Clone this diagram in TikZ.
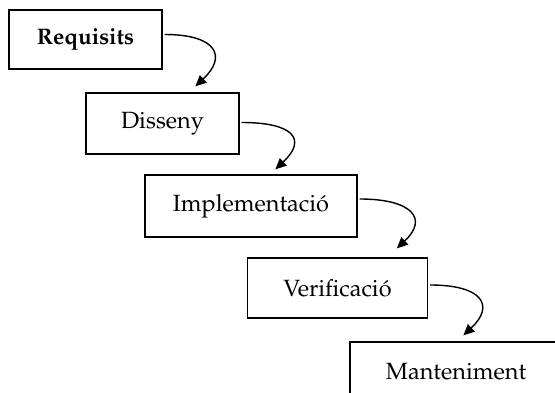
\documentclass[tikz,border=0pt]{standalone}
\usepackage[T1]{fontenc}
\usepackage{mathpazo}
\usetikzlibrary{arrows.meta}
\begin{document}
\begin{tikzpicture}[x=1pt,y=-1pt,
  stage/.style={draw, line width=1.3pt, rectangle, inner sep=0pt, font=\fontsize{23.5}{26}\selectfont},
  flow/.style={line width=1.4pt, -{Triangle[length=11pt,width=10pt]}}]
\useasboundingbox (0,0) rectangle (555,393);
\clip (0,0) rectangle (555,393);
\fill[white] (0,0) rectangle (555,393);
\node[stage, minimum width=153pt, minimum height=59pt] (r) at (85.5,39.5) {\fontsize{22.5}{26}\selectfont\textbf{Requisits}};
\node[stage, minimum width=153pt, minimum height=61pt] (d) at (162.5,123.5) {Disseny};
\node[stage, minimum width=212pt, minimum height=62pt] (i) at (251,206) {Implementaci\'o};
\node[stage, minimum width=180pt, minimum height=60pt] (v) at (337.5,288) {Verificaci\'o};
\node[stage, minimum width=212pt, minimum height=60pt] (m) at (456,372) {Manteniment};
\draw[flow] ([xshift=2pt,yshift=5pt]r.east) .. controls +(52,0) and +(32,-30) .. ([xshift=110pt,yshift=6pt]d.north west);
\draw[flow] ([xshift=2pt,yshift=1pt]d.east) .. controls +(52,0) and +(32,-30) .. ([xshift=131pt,yshift=5pt]i.north west);
\draw[flow] ([xshift=2pt,yshift=7pt]i.east) .. controls +(52,0) and +(32,-30) .. ([xshift=150pt,yshift=9pt]v.north west);
\draw[flow] ([xshift=2pt,yshift=3pt]v.east) .. controls +(52,0) and +(32,-30) .. ([xshift=114pt,yshift=6pt]m.north west);
\end{tikzpicture}
\end{document}
